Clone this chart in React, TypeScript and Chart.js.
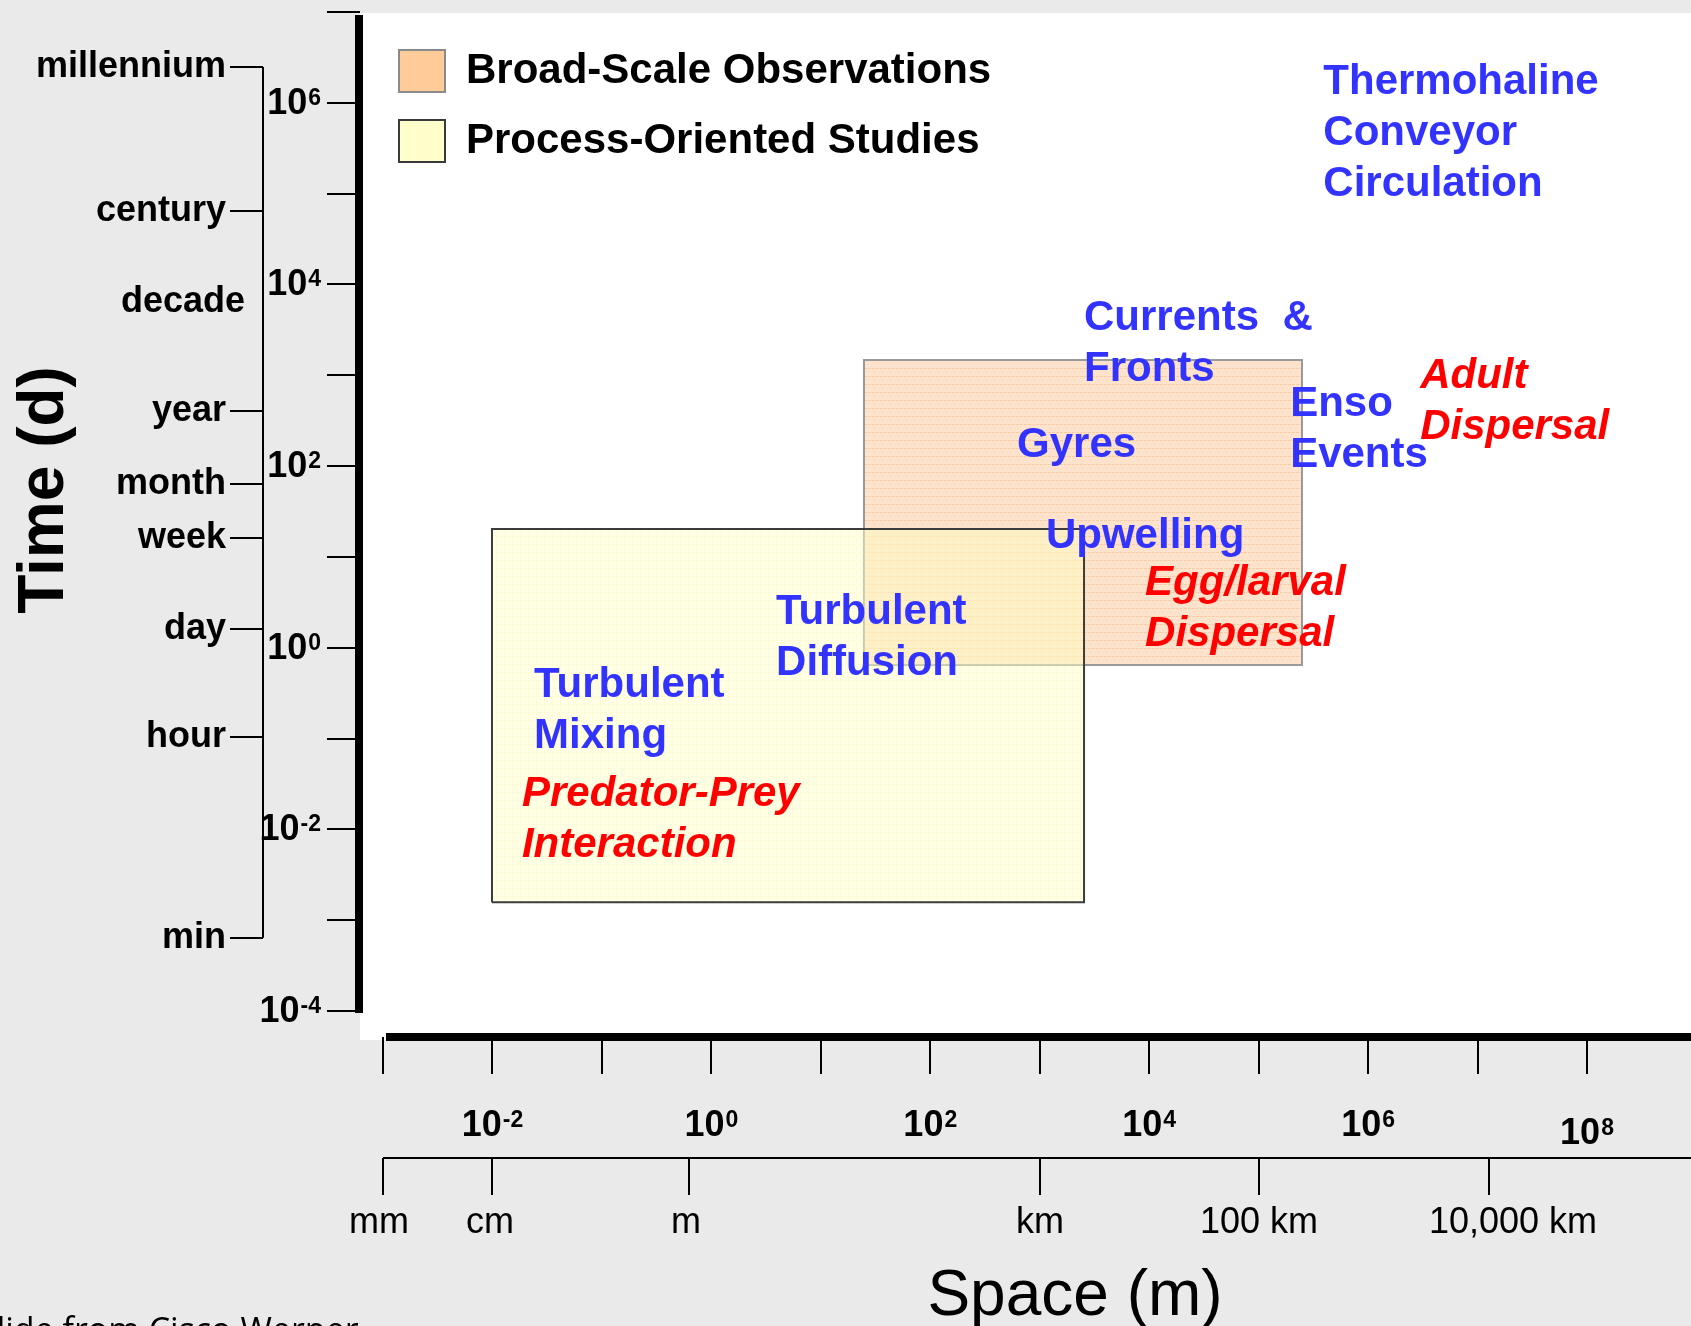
import React, { useEffect, useRef } from 'react';
import { Chart, registerables } from 'chart.js';

Chart.register(...registerables);

const CANVAS_W = 1691;
const CANVAS_H = 1326;
const SANS = '"Liberation Sans", Arial, Helvetica, sans-serif';

// ---------------- data ----------------
const studyNames = ['Broad-Scale Observations', 'Process-Oriented Studies'];
const studySpaceFrom = [24.8, 0.0099]; // metres
const studySpaceTo = [249000, 2540];
const studyTimeFrom = [0.646, 0.00158]; // days
const studyTimeTo = [1472, 20.3];

const processNames = [
  ['Thermohaline', 'Conveyor', 'Circulation'],
  ['Currents  &', 'Fronts'],
  ['Gyres'],
  ['Enso', 'Events'],
  ['Upwelling'],
  ['Turbulent', 'Diffusion'],
  ['Turbulent', 'Mixing'],
  ['Adult', 'Dispersal'],
  ['Egg/larval', 'Dispersal'],
  ['Predator-Prey', 'Interaction'],
];
const processSpace = [3.9e5, 2540, 621, 1.94e5, 1140, 3.9, 0.024, 2.99e6, 9170, 0.0186];
const processTime = [1.25e6, 3150, 126, 356, 12.5, 1.82, 0.286, 724, 3.8, 0.0181];
const processIsBiological = [false, false, false, false, false, false, false, true, true, true];

const spaceTickValues = [1e-3, 1e-2, 1e-1, 1, 10, 100, 1e3, 1e4, 1e5, 1e6, 1e7, 1e8];
const spaceLabelExponents = ['-2', '0', '2', '4', '6', '8'];
const timeTickValues = [1e-4, 1e-3, 1e-2, 1e-1, 1, 10, 100, 1e3, 1e4, 1e5, 1e6, 1e7];
const timeLabelExponents = ['-4', '-2', '0', '2', '4', '6'];

const lengthUnitNames = ['mm', 'cm', 'm', 'km', '100 km', '10,000 km'];
const lengthUnitValues = [0.001, 0.01, 0.63, 1000, 1e5, 1.26e7];

const timeUnitNames = ['millennium', 'century', 'decade', 'year', 'month', 'week', 'day', 'hour', 'min'];
const timeUnitValues = [2.48e6, 6.44e4, 6410, 404, 63.5, 16.1, 1.61, 0.104, 0.00064];
const timeUnitMarked = [true, true, false, true, true, true, true, true, true];

const xTitle = 'Space (m)';
const yTitle = 'Time (d)';
const creditText = 'Slide from Cisco Werner';

// ---------------- styling helpers ----------------
const BLUE = '#3333ff';
const RED = '#ff0000';
const swatchFills = ['#ffcc99', '#ffffcc'];
const swatchBorders = ['#8a8a8a', '#3a3a3a'];
const boxBorders = ['#9a9a9a', '#3c3c3c'];
const unitLabelShift = [-4, -2, -3, 0, 0, 24];

function makePattern(ctx: CanvasRenderingContext2D, kind: string): CanvasPattern | string {
  const tile = document.createElement('canvas');
  tile.width = 8;
  tile.height = 8;
  const g = tile.getContext('2d');
  if (!g) return kind === 'broad' ? '#fde3cb' : 'rgba(255,255,200,0.45)';
  if (kind === 'broad') {
    g.fillStyle = '#fde3cb';
    g.fillRect(0, 0, 8, 8);
    g.fillStyle = '#f8cda6';
    g.fillRect(0, 0, 3, 1);
    g.fillRect(4, 0, 3, 1);
    g.fillStyle = '#fad8ba';
    g.fillRect(2, 4, 1, 1);
  } else {
    g.clearRect(0, 0, 8, 8);
    g.fillStyle = 'rgba(255,255,192,0.45)';
    g.fillRect(0, 0, 8, 8);
    g.fillStyle = 'rgba(245,238,185,0.22)';
    g.fillRect(0, 0, 8, 1);
    g.fillRect(0, 1, 1, 7);
  }
  const p = ctx.createPattern(tile, 'repeat');
  return p || '#fde3cb';
}

function drawPower(
  ctx: CanvasRenderingContext2D,
  exp: string,
  x: number,
  y: number,
  align: 'left' | 'right' | 'center'
) {
  const baseFont = `bold 36px ${SANS}`;
  const supFont = `bold 23px ${SANS}`;
  ctx.font = baseFont;
  const wb = ctx.measureText('10').width;
  ctx.font = supFont;
  const we = ctx.measureText(exp).width;
  const total = wb + 1 + we;
  const left = align === 'right' ? x - total : align === 'center' ? x - total / 2 : x;
  ctx.textAlign = 'left';
  ctx.textBaseline = 'alphabetic';
  ctx.font = baseFont;
  ctx.fillText('10', left, y);
  ctx.font = supFont;
  ctx.fillText(exp, left + wb + 1, y - 9);
}

function line(ctx: CanvasRenderingContext2D, x1: number, y1: number, x2: number, y2: number, w: number) {
  ctx.lineWidth = w;
  ctx.beginPath();
  ctx.moveTo(x1, y1);
  ctx.lineTo(x2, y2);
  ctx.stroke();
}

const decorPlugin = {
  id: 'decor',
  beforeDraw(chart: any) {
    const { ctx, chartArea: ca } = chart;
    ctx.save();
    ctx.fillStyle = '#eaeaea';
    ctx.fillRect(0, 0, chart.width, chart.height);
    ctx.fillStyle = '#ffffff';
    const left = ca.left - 23;
    ctx.fillRect(left, ca.top + 1, chart.width - left, ca.bottom + 29 - (ca.top + 1));
    ctx.restore();
  },
  afterDraw(chart: any) {
    const { ctx, chartArea: ca } = chart;
    const xs = chart.scales.x;
    const ys = chart.scales.y;
    ctx.save();
    ctx.strokeStyle = '#000';
    ctx.fillStyle = '#000';
    ctx.lineCap = 'butt';

    // ---- time (y) axis ----
    const yAxisX = ca.left - 24;
    timeTickValues.forEach((v) => {
      const py = Math.round(ys.getPixelForValue(v));
      line(ctx, ca.left - 56, py, ca.left - 23, py, 2);
    });
    line(ctx, yAxisX, ca.top + 3, yAxisX, ca.bottom + 2, 8);
    timeLabelExponents.forEach((e) => {
      const py = ys.getPixelForValue(Math.pow(10, Number(e)));
      drawPower(ctx, e, ca.left - 62, py + 11, 'right');
    });

    // ---- time units axis ----
    const tuX = ca.left - 120;
    const markedY = timeUnitValues
      .filter((_, i) => timeUnitMarked[i])
      .map((v) => ys.getPixelForValue(v));
    line(ctx, tuX, Math.min(...markedY), tuX, Math.max(...markedY), 2);
    ctx.font = `bold 36px ${SANS}`;
    ctx.textAlign = 'right';
    ctx.textBaseline = 'alphabetic';
    timeUnitNames.forEach((name, i) => {
      const py = Math.round(ys.getPixelForValue(timeUnitValues[i]));
      if (timeUnitMarked[i]) {
        line(ctx, ca.left - 153, py, tuX, py, 2);
        ctx.fillText(name, ca.left - 157, py + 10);
      } else {
        ctx.fillText(name, ca.left - 138, py + 10);
      }
    });

    // ---- space (x) axis ----
    const xAxisY = ca.bottom + 26;
    spaceTickValues.forEach((v) => {
      const px = Math.round(xs.getPixelForValue(v));
      line(ctx, px, xAxisY, px, ca.bottom + 63, 2);
    });
    line(ctx, ca.left + 3, xAxisY, chart.width, xAxisY, 8);
    spaceLabelExponents.forEach((e) => {
      const px = xs.getPixelForValue(Math.pow(10, Number(e)));
      drawPower(ctx, e, px, ca.bottom + 125 + (e === '8' ? 8 : 0), 'center');
    });

    // ---- length units axis ----
    const luY = ca.bottom + 147;
    line(ctx, ca.left, luY, chart.width, luY, 2);
    ctx.font = `36px ${SANS}`;
    ctx.textAlign = 'center';
    lengthUnitNames.forEach((name, i) => {
      const px = Math.round(xs.getPixelForValue(lengthUnitValues[i]));
      line(ctx, px, luY, px, ca.bottom + 184, 2);
      ctx.fillText(name, px + unitLabelShift[i], ca.bottom + 222);
    });

    // ---- axis titles ----
    ctx.font = `64px ${SANS}`;
    ctx.textAlign = 'center';
    ctx.fillText(xTitle, 1075, ca.bottom + 304);
    ctx.save();
    ctx.translate(63, 490);
    ctx.rotate(-Math.PI / 2);
    ctx.font = `bold 64px ${SANS}`;
    ctx.textAlign = 'center';
    ctx.fillText(yTitle, 0, 0);
    ctx.restore();

    // ---- process annotations ----
    ctx.textAlign = 'left';
    ctx.textBaseline = 'alphabetic';
    processNames.forEach((lines, i) => {
      const px = xs.getPixelForValue(processSpace[i]);
      const py = ys.getPixelForValue(processTime[i]);
      const bio = processIsBiological[i];
      ctx.fillStyle = bio ? RED : BLUE;
      ctx.font = `${bio ? 'italic ' : ''}bold 42px ${SANS}`;
      lines.forEach((t, j) => ctx.fillText(t, px, py + j * 51));
    });

    // ---- legend ----
    chart.data.datasets.forEach((ds: any, i: number) => {
      const top = 50 + i * 70;
      ctx.fillStyle = swatchFills[i];
      ctx.fillRect(399, top, 46, 42);
      ctx.strokeStyle = swatchBorders[i];
      ctx.lineWidth = 2;
      ctx.strokeRect(399, top, 46, 42);
      ctx.fillStyle = '#000';
      ctx.font = `bold 42px ${SANS}`;
      ctx.textAlign = 'left';
      ctx.fillText(ds.label, 466, top + 33);
    });

    // ---- credit (cut off at the bottom) ----
    ctx.fillStyle = '#000';
    ctx.font = `34px "Open Sans", ${SANS}`;
    ctx.textAlign = 'left';
    ctx.fillText(creditText, -22, 1342);

    ctx.restore();
  },
};

export default function App() {
  const ref = useRef<HTMLCanvasElement>(null);

  useEffect(() => {
    const canvas = ref.current;
    if (!canvas) return;
    const ctx = canvas.getContext('2d');
    if (!ctx) return;
    const fills = [makePattern(ctx, 'broad'), makePattern(ctx, 'process')];

    const chart = new Chart(canvas, {
      type: 'line',
      data: {
        datasets: studyNames.map((name, i) => ({
          label: name,
          data: [
            { x: studySpaceFrom[i], y: studyTimeFrom[i] },
            { x: studySpaceFrom[i], y: studyTimeTo[i] },
            { x: studySpaceTo[i], y: studyTimeTo[i] },
            { x: studySpaceTo[i], y: studyTimeFrom[i] },
            { x: studySpaceFrom[i], y: studyTimeFrom[i] },
          ],
          fill: 'shape',
          backgroundColor: fills[i],
          borderColor: boxBorders[i],
          borderWidth: 2,
          pointRadius: 0,
          tension: 0,
          order: i === 0 ? 2 : 1,
        })),
      },
      options: {
        responsive: false,
        animation: false,
        devicePixelRatio: 1,
        events: [],
        layout: { padding: { left: 383, right: 104, top: 12, bottom: 315 } },
        scales: {
          x: { type: 'logarithmic', min: 1e-3, max: 1e8, display: false },
          y: { type: 'logarithmic', min: 1e-4, max: 1e7, display: false },
        },
        plugins: {
          legend: { display: false },
          tooltip: { enabled: false },
        },
      } as any,
      plugins: [decorPlugin as any],
    } as any);

    return () => chart.destroy();
  }, []);

  return (
    <div style={{ position: 'absolute', left: 0, top: 0, width: CANVAS_W, height: CANVAS_H, overflow: 'hidden' }}>
      <canvas
        ref={ref}
        width={CANVAS_W}
        height={CANVAS_H}
        style={{ display: 'block', width: CANVAS_W, height: CANVAS_H }}
      />
    </div>
  );
}
